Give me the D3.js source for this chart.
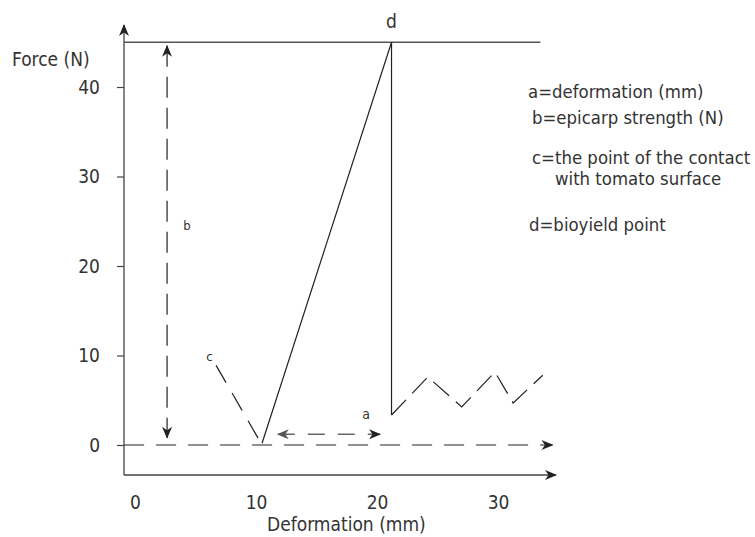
<!DOCTYPE html>
<html>
<head>
<meta charset="utf-8">
<script src="https://cdn.jsdelivr.net/npm/d3@7"></script>
<style>
  html, body { margin: 0; padding: 0; background: #fff; }
  svg { display: block; }
  text { font-family: 'DejaVu Sans Condensed', 'DejaVu Sans', sans-serif; font-stretch: condensed; fill: #333; }
</style>
</head>
<body>
<svg id="chart" width="755" height="537"></svg>
<script>
// ---- data ----
const yTicks = [0, 10, 20, 30, 40];
const xTicks = [0, 10, 20, 30];
const yLabel = "Force (N)";
const xLabel = "Deformation (mm)";
// bioyield level line (force = 45 N)
const topLine = [[-0.9, 45], [33.5, 45]];
// solid loading curve: contact -> bioyield -> drop
const solidCurve = [[10.5, 0.2], [21.2, 45], [21.2, 3.35]];
// dashed approach segment ending at contact point c
const contactCurve = [[6.7, 8.9], [10.2, 0.7]];
// dashed post-failure zigzag
const zigzag = [[21.2, 3.35], [24.2, 7.6], [27.0, 4.25], [29.75, 8.15], [31.25, 4.7], [33.7, 7.8]];
// dashed zero baseline with arrow
const baseline = [[-0.9, 0], [34.5, 0]];
// b arrow (epicarp strength)
const bArrow = [[2.65, 44.6], [2.65, 0.8]];
// a arrow (deformation)
const aArrow = [[11.8, 1.2], [20.25, 1.2]];
// point labels
const pointLabels = [
  { t: "d", x: 21.2, y: 46.6, size: 19 },
  { t: "b", x: 4.3, y: 24.0, size: 13 },
  { t: "c", x: 6.15, y: 9.4, size: 13 },
  { t: "a", x: 19.1, y: 2.95, size: 14 }
];
const legendLines = [
  { t: "a=deformation (mm)", dx: 0, row: 0 },
  { t: "b=epicarp strength (N)", dx: 4, row: 1 },
  { t: "c=the point of the contact", dx: 4, row: 2 },
  { t: "with tomato surface", dx: 27, row: 3 },
  { t: "d=bioyield point", dx: 1, row: 4 }
];
const legendBaselines = [98, 124, 164, 185, 231];

// ---- layout ----
const svg = d3.select("#chart");
const x = d3.scaleLinear().domain([0, 30]).range([135, 498]);
const y = d3.scaleLinear().domain([0, 40]).range([445, 87]);
const axisX = 124, axisYpx = 475;

const defs = svg.append("defs");
function marker(id, color) {
  defs.append("marker")
    .attr("id", id)
    .attr("viewBox", "0 0 12 10")
    .attr("refX", 11).attr("refY", 5)
    .attr("markerWidth", 12).attr("markerHeight", 10)
    .attr("markerUnits", "userSpaceOnUse")
    .attr("orient", "auto-start-reverse")
    .append("path")
    .attr("d", "M0,0 L12,5 L0,10 L3.5,5 Z")
    .attr("fill", color);
}
marker("arrDark", "#222");
marker("arrGray", "#555");

const line = d3.line().x(d => x(d[0])).y(d => y(d[1]));

// axes lines with arrows
svg.append("line")
  .attr("x1", axisX).attr("x2", axisX)
  .attr("y1", axisYpx).attr("y2", 25)
  .attr("stroke", "#444").attr("stroke-width", 1.3)
  .attr("marker-end", "url(#arrDark)");
svg.append("line")
  .attr("x1", axisX).attr("x2", 556)
  .attr("y1", axisYpx).attr("y2", axisYpx)
  .attr("stroke", "#444").attr("stroke-width", 1.3)
  .attr("marker-end", "url(#arrDark)");

// y axis ticks
const gy = svg.append("g").attr("transform", `translate(${axisX},0)`)
  .call(d3.axisLeft(y).tickValues(yTicks).tickSize(7).tickPadding(17).tickFormat(d3.format("d")));
gy.select(".domain").remove();
gy.selectAll(".tick line").attr("stroke", "#444").attr("stroke-width", 1.2);
gy.selectAll(".tick text").attr("font-size", 19).attr("fill", "#333")
  .style("font-family", "'DejaVu Sans Condensed', 'DejaVu Sans', sans-serif");

// x axis labels (no tick marks)
const gx = svg.append("g").attr("transform", `translate(0,${axisYpx})`)
  .call(d3.axisBottom(x).tickValues(xTicks).tickSize(0).tickPadding(21).tickFormat(d3.format("d")));
gx.select(".domain").remove();
gx.selectAll(".tick text").attr("font-size", 19).attr("fill", "#333")
  .style("font-family", "'DejaVu Sans Condensed', 'DejaVu Sans', sans-serif");

// axis titles
svg.append("text").attr("x", 12).attr("y", 66).attr("font-size", 19).text(yLabel);
svg.append("text").attr("x", 267).attr("y", 531).attr("font-size", 19).text(xLabel);

// top bioyield line
svg.append("path").attr("d", line(topLine)).attr("fill", "none")
  .attr("stroke", "#555").attr("stroke-width", 1.4);

// baseline dashed with arrow
svg.append("path").attr("d", line(baseline)).attr("fill", "none")
  .attr("stroke", "#222").attr("stroke-width", 1.2).attr("stroke-dasharray", "20,12")
  .attr("marker-end", "url(#arrDark)");

// b arrow
svg.append("path").attr("d", line(bArrow)).attr("fill", "none")
  .attr("stroke", "#222").attr("stroke-width", 1.2).attr("stroke-dasharray", "21,10")
  .attr("marker-start", "url(#arrDark)").attr("marker-end", "url(#arrDark)");

// a arrow
svg.append("path").attr("d", line(aArrow)).attr("fill", "none")
  .attr("stroke", "#666").attr("stroke-width", 1.4).attr("stroke-dasharray", "17,13")
  .attr("marker-start", "url(#arrGray)").attr("marker-end", "url(#arrDark)");

// contact dashed
svg.append("path").attr("d", line(contactCurve)).attr("fill", "none")
  .attr("stroke", "#222").attr("stroke-width", 1.2).attr("stroke-dasharray", "20,12");

// solid curve
svg.append("path").attr("d", line(solidCurve)).attr("fill", "none")
  .attr("stroke", "#222").attr("stroke-width", 1.2);

// zigzag dashed
svg.append("path").attr("d", line(zigzag)).attr("fill", "none")
  .attr("stroke", "#222").attr("stroke-width", 1.2).attr("stroke-dasharray", "21,9");

// point labels
svg.selectAll("text.pl").data(pointLabels).enter().append("text")
  .attr("class", "pl")
  .attr("x", d => x(d.x)).attr("y", d => y(d.y))
  .attr("text-anchor", "middle")
  .attr("font-size", d => d.size)
  .text(d => d.t);

// legend text
svg.selectAll("text.lg").data(legendLines).enter().append("text")
  .attr("class", "lg")
  .attr("x", d => 528 + d.dx)
  .attr("y", d => legendBaselines[d.row])
  .attr("font-size", 18.4)
  .text(d => d.t);
</script>
</body>
</html>
